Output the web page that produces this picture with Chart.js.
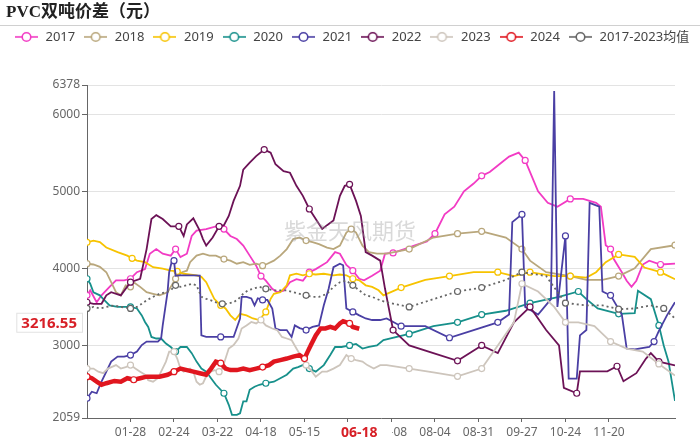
<!DOCTYPE html>
<html>
<head>
<meta charset="utf-8">
<script src="https://cdn.jsdelivr.net/npm/chart.js@4.4.0/dist/chart.umd.min.js"></script>
<style>
html, body { margin: 0; padding: 0; background: #fff; }
</style>
</head>
<body>
<canvas id="chart" width="700" height="447"></canvas>
<script>
// x axis = day of the year (0 = 01-01), labelled every 27 days
const tickDays = [27, 54, 81, 108, 135, 162, 189, 216, 243, 270, 297, 324];
const tickLabels = ["01-28", "02-24", "03-22", "04-18", "05-15", "06-11", "07-08", "08-04", "08-31", "09-27", "10-24", "11-20"];
const markDays = [0, 27, 54, 81, 108, 135, 162, 189, 216, 243, 270, 297, 324, 351];
const yTicks = [2059, 3000, 4000, 5000, 6000, 6378];

const days2017 = [0,2,6,9,14,18,23,27,31,36,39,43,47,52,55,58,62,65,68,74,80,85,89,93,97,101,105,108,111,115,118,122,126,130,134,138,142,149,154,157,161,165,169,172,177,182,185,190,197,204,211,216,222,228,234,240,245,250,256,262,268,272,276,280,286,292,300,308,316,319,322,325,327,332,335,338,341,345,349,356,365];
const vals2017 = [3650,3715,3560,3650,3760,3845,3845,3865,3950,3990,4190,4250,4190,4165,4250,4145,4190,4420,4490,4510,4545,4510,4420,4380,4295,4165,4035,3900,3840,3735,3690,3710,3820,3860,3840,3950,3990,4080,4210,4190,4045,3970,3865,3845,3905,3970,4190,4200,4250,4300,4350,4450,4700,4800,5000,5100,5200,5250,5350,5450,5500,5400,5200,5000,4850,4800,4900,4900,4850,4800,4300,4250,4120,3950,3840,3760,3840,4050,4100,4050,4060];

const days2018 = [0,4,8,12,15,18,21,24,27,29,33,37,41,45,50,52,55,59,62,64,68,72,76,80,85,89,93,97,101,105,109,112,116,120,124,128,132,136,140,144,149,153,157,161,164,167,169,171,175,180,186,200,215,230,245,260,270,275,285,300,310,320,330,340,350,365];
const vals2018 = [4060,4050,4020,3950,3820,3690,3650,3780,3760,3820,3760,3690,3670,3650,3690,3760,3865,3950,3970,4080,4165,4190,4165,4165,4120,4100,4060,4080,4045,4060,4035,4060,4100,4165,4250,4380,4400,4360,4340,4315,4270,4250,4295,4465,4510,4465,4380,4295,4210,4190,4190,4250,4400,4450,4480,4400,4250,4100,3950,3900,3850,3850,3900,4000,4250,4300];

const days2019 = [0,4,8,12,19,25,28,31,36,41,47,52,56,60,68,71,74,76,79,83,86,89,92,95,99,103,107,111,114,116,120,124,126,130,134,138,142,147,153,157,161,165,169,173,177,181,184,195,210,225,240,255,265,275,290,300,310,316,322,330,340,346,356,365];
const vals2019 = [4337,4360,4340,4270,4210,4165,4130,4100,4080,4015,3995,3970,3960,3930,3910,3890,3820,3735,3605,3520,3480,3390,3330,3410,3390,3350,3330,3435,3605,3670,3690,3780,3910,3930,3910,3930,3920,3930,3910,3920,3910,3865,3845,3780,3760,3715,3650,3750,3850,3900,3950,3950,3900,3950,3900,3900,3880,3950,4080,4180,4150,4010,3950,3860];

const days2020 = [0,2,4,8,10,14,19,23,27,31,34,36,38,40,43,46,49,52,55,58,62,65,68,71,74,77,80,85,88,90,93,95,97,99,101,104,107,111,116,120,124,128,131,134,138,142,147,151,154,158,163,167,171,175,180,184,200,215,230,245,260,275,293,305,310,317,330,340,342,350,355,358,361,363,365];
const vals2020 = [3865,3800,3690,3650,3605,3520,3500,3500,3500,3480,3390,3305,3240,3110,3090,3090,3025,2980,2920,2980,2980,2900,2790,2700,2660,2575,2490,2380,2230,2100,2100,2120,2275,2275,2425,2465,2490,2510,2530,2575,2620,2700,2720,2745,2700,2660,2745,2875,2980,2980,3000,3020,2960,2980,3000,3070,3150,3250,3300,3400,3450,3550,3630,3700,3600,3480,3410,3420,3710,3600,3260,3000,2790,2535,2280];

const days2021 = [0,3,6,9,12,15,19,23,27,31,34,37,41,44,46,47,50,51,53,54,55,57,62,66,70,71,74,78,83,87,91,95,96,99,102,104,106,109,112,115,117,120,124,127,129,132,136,140,144,147,150,153,157,159,161,165,169,173,177,182,186,195,210,225,240,255,262,264,270,272,280,288,290,292,297,299,304,306,310,312,318,320,325,332,335,340,349,352,355,360,365];
const vals2021 = [2315,2400,2380,2530,2660,2790,2855,2855,2875,2920,3005,3050,3050,3050,3090,3260,3690,3950,4120,4100,3905,3910,3910,3910,3905,3130,3110,3110,3110,3110,3110,3350,3630,3630,3610,3520,3610,3590,3590,3480,3220,3200,3200,3110,3260,3225,3200,3240,3260,3520,3735,4015,4060,4040,3480,3435,3390,3350,3330,3330,3350,3250,3250,3100,3200,3300,3400,4600,4700,3500,3400,3600,6300,3500,4420,2570,2570,3130,3200,4850,4800,3700,3650,3400,2960,2950,2980,3050,3190,3390,3560];

const days2022 = [0,4,9,12,15,21,27,33,37,40,43,47,52,57,60,62,66,70,72,74,78,82,85,88,91,95,97,101,105,110,114,117,122,126,130,134,138,142,146,149,153,157,160,163,167,170,173,177,182,185,190,200,215,230,245,255,265,275,285,293,296,304,306,323,329,333,341,347,350,355,365];
const vals2022 = [3560,3540,3540,3650,3690,3650,3820,3865,4250,4640,4690,4640,4545,4545,4420,4570,4650,4490,4380,4295,4400,4545,4560,4680,4875,5070,5280,5370,5455,5540,5500,5350,5260,5240,5070,4940,4770,4640,4510,4560,4620,4940,5070,5090,4875,4680,4210,4165,4100,3735,3200,3000,2900,2800,3000,2900,3300,3500,3200,3000,2450,2380,2665,2665,2730,2535,2640,2830,2900,2790,2740];

const days2023 = [0,4,7,10,13,18,21,24,27,30,33,36,38,41,44,46,49,51,54,56,58,60,64,66,68,70,72,74,77,79,82,84,86,88,91,94,96,99,102,105,108,111,115,118,121,124,127,130,133,136,139,142,146,149,153,157,161,164,167,171,174,178,182,186,200,215,230,245,255,265,270,280,290,297,305,315,325,335,345,355,365];
const vals2023 = [2700,2700,2660,2640,2700,2745,2700,2720,2745,2700,2660,2620,2550,2530,2575,2660,2790,2920,2920,2830,2700,2660,2700,2660,2530,2490,2510,2600,2660,2680,2660,2700,2830,2960,3005,3090,3220,3260,3305,3285,3330,3260,3220,3200,3110,3090,3070,2960,2855,2745,2680,2595,2660,2660,2700,2745,2875,2830,2810,2790,2745,2700,2745,2745,2700,2650,2600,2700,3000,3300,3800,3700,3500,3300,3300,3250,3050,2960,2920,2760,2610];

const days2024 = [0,3,6,9,12,17,21,25,29,33,37,41,45,50,54,58,62,66,70,74,77,80,83,86,89,93,97,101,105,109,113,116,120,124,128,132,135,137,139,142,145,148,151,154,157,159,163,165,169];
const vals2024 = [2595,2575,2530,2490,2510,2540,2530,2575,2555,2575,2595,2595,2595,2620,2660,2700,2680,2660,2640,2620,2700,2790,2770,2700,2680,2680,2700,2680,2700,2720,2745,2790,2810,2830,2855,2875,2830,2920,3005,3130,3220,3220,3240,3220,3285,3315,3285,3240,3216.55];

const daysAvg = [0,4,8,12,17,21,27,31,34,37,41,45,49,52,55,58,62,65,68,71,74,77,80,84,87,91,94,97,100,103,107,111,116,120,124,128,132,136,140,144,149,153,157,161,165,169,173,177,182,186,200,215,230,245,260,270,285,297,310,320,330,340,350,358,365];
const valsAvg = [3480,3500,3480,3500,3520,3500,3480,3500,3540,3585,3630,3670,3690,3715,3780,3760,3780,3800,3780,3630,3605,3585,3560,3540,3540,3560,3605,3670,3715,3735,3760,3735,3715,3715,3715,3690,3670,3650,3630,3630,3670,3760,3820,3840,3780,3715,3650,3630,3585,3560,3500,3600,3700,3750,3850,3950,3900,3550,3520,3520,3470,3480,3520,3480,3350];

const seriesNames = ["2017", "2018", "2019", "2020", "2021", "2022", "2023", "2024", "2017-2023均值"];
const seriesColors = ["#f23bc4", "#b9a77c", "#f7c300", "#17908b", "#4a3fa4", "#6c1256", "#cdc5bc", "#e0161f", "#666666"];
const seriesDays = [days2017, days2018, days2019, days2020, days2021, days2022, days2023, days2024, daysAvg];
const seriesVals = [vals2017, vals2018, vals2019, vals2020, vals2021, vals2022, vals2023, vals2024, valsAvg];
const drawOrder = [8, 7, 6, 5, 4, 3, 2, 0, 1];

const FONT = '"Noto Sans", "Noto Sans CJK SC", sans-serif';

function markRadius(ctx) {
  if (ctx.dataIndex === undefined) return 0;
  const data = ctx.dataset.data;
  const i = ctx.dataIndex;
  const x = data[i].x;
  const prev = i > 0 ? data[i - 1].x : -1;
  return markDays.some(t => t > prev && t <= x) ? 3 : 0;
}

function legendIcon(color) {
  const c = document.createElement("canvas");
  c.width = 23; c.height = 12;
  const g = c.getContext("2d");
  g.strokeStyle = color;
  g.lineWidth = 1.6;
  g.beginPath(); g.moveTo(0, 6); g.lineTo(23, 6); g.stroke();
  g.beginPath(); g.arc(11.5, 6, 4.3, 0, Math.PI * 2);
  g.fillStyle = "#fff"; g.fill(); g.stroke();
  return c;
}

const datasets = seriesNames.map((name, i) => ({
  label: name,
  data: seriesDays[i].map((d, k) => ({ x: d, y: seriesVals[i][k] })),
  borderColor: seriesColors[i],
  backgroundColor: seriesColors[i],
  borderWidth: i === 7 ? 4.5 : 1.8,
  borderDash: i === 8 ? [2, 3] : [],
  pointRadius: markRadius,
  pointBackgroundColor: "#fff",
  pointBorderColor: seriesColors[i],
  pointBorderWidth: 1.2,
  tension: 0,
  fill: false,
  order: drawOrder[i]
}));

const decor = {
  id: "decor",
  beforeInit(chart) {
    const fit = chart.legend.fit;
    chart.legend.fit = function () {
      fit.call(this);
      this.height = 85 - chart.titleBlock.height;
    };
  },
  beforeDraw(chart) {
    const ctx = chart.ctx;
    ctx.save();
    ctx.fillStyle = "#fff";
    ctx.fillRect(0, 0, chart.width, chart.height);
    ctx.strokeStyle = "#d0d0d0";
    ctx.lineWidth = 1;
    ctx.beginPath(); ctx.moveTo(0, 25.5); ctx.lineTo(chart.width, 25.5); ctx.stroke();
    ctx.restore();
  },
  afterDatasetsDraw(chart) {
    const ctx = chart.ctx;
    ctx.save();
    ctx.font = '22px "Noto Sans CJK SC", sans-serif';
    ctx.fillStyle = "rgba(160,160,160,0.4)";
    ctx.textAlign = "center";
    ctx.textBaseline = "middle";
    ctx.fillText("紫金天风期货", 350, 231);
    ctx.restore();
  },
  afterDraw(chart) {
    const ctx = chart.ctx;
    const xs = chart.scales.x, ys = chart.scales.y;
    const lastDay = days2024[days2024.length - 1];
    const lastVal = vals2024[vals2024.length - 1];
    const dayText = "06-18";
    ctx.save();
    // x pointer label
    ctx.font = "bold 14px " + FONT;
    let w = 66;
    let cx = xs.getPixelForValue(lastDay);
    ctx.fillStyle = "#fff";
    ctx.fillRect(cx - w / 2, 423, w, 22);
    ctx.fillStyle = "#d71f26";
    ctx.textAlign = "center";
    ctx.textBaseline = "middle";
    ctx.fillText(dayText, cx, 433.5);
    // y pointer label
    ctx.font = "bold 15px " + FONT;
    const valText = String(lastVal);
    w = ctx.measureText(valText).width + 10;
    const cy = ys.getPixelForValue(lastVal) - 6;
    ctx.fillStyle = "#fff";
    ctx.fillRect(82 - w, cy - 10, w, 20);
    ctx.strokeStyle = "#e2e2e2";
    ctx.lineWidth = 1;
    ctx.strokeRect(82.5 - w, cy - 9.5, w, 19);
    ctx.fillStyle = "#d71f26";
    ctx.textAlign = "center";
    ctx.fillText(valText, 82 - w / 2, cy + 0.5);
    ctx.restore();
  }
};

new Chart(document.getElementById("chart"), {
  type: "line",
  data: { datasets: datasets },
  plugins: [decor],
  options: {
    responsive: false,
    animation: false,
    events: [],
    layout: { padding: { left: 6, right: 0, top: 0, bottom: 0 } },
    plugins: {
      title: {
        display: true,
        text: "PVC双吨价差（元）",
        align: "start",
        color: "#222",
        font: { family: '"Liberation Serif", "Noto Sans CJK SC", serif', size: 17, weight: "bold" },
        padding: { top: 2, bottom: 0 }
      },
      legend: {
        display: true,
        align: "start",
        labels: {
          usePointStyle: true,
          pointStyleWidth: 25,
          padding: 8,
          color: "#444",
          font: { family: FONT, size: 13 },
          generateLabels: chart => chart.data.datasets.map((ds, i) => ({
            text: ds.label,
            pointStyle: legendIcon(ds.borderColor),
            fillStyle: "#fff",
            strokeStyle: ds.borderColor,
            lineWidth: 0,
            hidden: false,
            datasetIndex: i,
            fontColor: "#444"
          }))
        }
      },
      tooltip: { enabled: false }
    },
    scales: {
      x: {
        type: "linear",
        min: 0,
        max: 365,
        afterBuildTicks: s => { s.ticks = tickDays.map(v => ({ value: v })); },
        afterFit: s => { s.height = 29; },
        grid: { drawOnChartArea: false, drawTicks: true, tickLength: 4, tickColor: "#666" },
        border: { display: true, color: "#666" },
        ticks: {
          autoSkip: false,
          maxRotation: 0,
          padding: 3,
          color: "#666",
          font: { family: FONT, size: 12 },
          callback: v => tickLabels[tickDays.indexOf(v)]
        }
      },
      y: {
        type: "linear",
        min: 2059,
        max: 6378,
        afterBuildTicks: s => { s.ticks = yTicks.map(v => ({ value: v })); },
        afterFit: s => { s.width = 81; },
        grid: { color: "#e3e3e3", tickColor: "#666", tickLength: 5, drawTicks: true },
        border: { display: true, color: "#666" },
        ticks: {
          padding: 2,
          color: "#666",
          font: { family: FONT, size: 12 },
          callback: v => String(v)
        }
      },
      yR: {
        position: "right",
        display: true,
        afterFit: s => { s.width = 25; },
        grid: { display: false, drawTicks: false },
        border: { display: false },
        ticks: { display: false }
      }
    }
  }
});
</script>
</body>
</html>
